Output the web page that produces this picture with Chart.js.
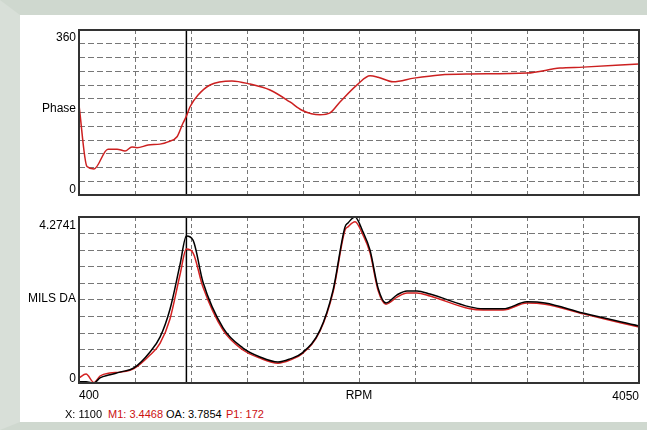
<!DOCTYPE html>
<html>
<head>
<meta charset="utf-8">
<script src="https://cdn.jsdelivr.net/npm/chart.js@4.4.0/dist/chart.umd.min.js"></script>
<style>
  html, body { margin: 0; padding: 0; }
  body { width: 647px; height: 430px; position: relative; overflow: hidden; background: #fff;
         font-family: "Liberation Sans", Arial, sans-serif; }
  #frame { position: absolute; left: 0; top: 0; width: 627px; height: 407px; background: #fff;
           border-left: 20px solid #d8dfd8; border-top: 15px solid #cfd8cf; border-bottom: 8px solid #cfd8cf; }
  canvas { position: absolute; left: 0; }
  .lbl { position: absolute; font-size: 12px; line-height: 14px; color: #000; white-space: nowrap; }
  .yl { left: 0; width: 76px; text-align: right; }
  .st { position: absolute; top: 408px; font-size: 11px; line-height: 13px; color: #000; white-space: nowrap; }
  .red { color: #cc1111; }
</style>
</head>
<body>
<div id="frame"></div>
<canvas id="phase" width="647" height="200" style="top:0"></canvas>
<canvas id="amp" width="647" height="185" style="top:205px"></canvas>

<div class="lbl yl" style="top:30px">360</div>
<div class="lbl yl" style="top:101px">Phase</div>
<div class="lbl yl" style="top:182px">0</div>
<div class="lbl yl" style="top:218px">4.2741</div>
<div class="lbl yl" style="top:291px">MILS DA</div>
<div class="lbl yl" style="top:371px">0</div>
<div class="lbl" style="top:388px;left:79px">400</div>
<div class="lbl" style="top:388px;left:309px;width:100px;text-align:center">RPM</div>
<div class="lbl" style="top:389px;left:539px;width:100px;text-align:right">4050</div>
<div class="st" style="left:65px">X: 1100</div>
<div class="st red" style="left:108px">M1: 3.4468</div>
<div class="st" style="left:166px">OA: 3.7854</div>
<div class="st red" style="left:226px">P1: 172</div>

<script>
// phase vs rpm
const phaseRpm = [400, 452, 498, 589, 648, 700, 745, 778, 850, 928, 980, 1039, 1078, 1100, 1123, 1176, 1254, 1397, 1515, 1645,
  1775, 1853, 1971, 2036, 2101, 2218, 2297, 2349, 2447, 2584, 2753, 2948, 3320, 3535, 3685, 4050];
const phaseDeg = [196, 62, 57, 100, 100, 96, 105, 103, 109, 111, 116, 127, 157, 172, 192, 218, 240, 249, 242, 229,
  203, 185, 175, 179, 203, 242, 260, 257, 247, 255, 262, 264, 266, 277, 279, 286];

// amplitude vs rpm (overall = black, 1X = red)
const ampRpm = [400, 446, 498, 537, 602, 667, 758, 863, 928, 993, 1058, 1100, 1143, 1208, 1339, 1469, 1580, 1697, 1775, 1853,
  1971, 2056, 2134, 2153, 2199, 2251, 2297, 2349, 2401, 2473, 2538, 2603, 2688, 2948, 3033, 3164, 3320, 3437, 3685, 4050];
const ampOverall = [0.03, 0.03, 0.0, 0.13, 0.21, 0.28, 0.39, 0.80, 1.18, 1.90, 3.04, 3.785, 3.68, 2.60, 1.42, 0.90, 0.67, 0.54, 0.62, 0.77,
  1.36, 2.39, 4.02, 4.12, 4.274, 3.89, 3.42, 2.45, 2.06, 2.27, 2.37, 2.37, 2.29, 1.96, 1.91, 1.91, 2.09, 2.06, 1.80, 1.47];
const amp1x = [0.13, 0.23, 0.01, 0.18, 0.26, 0.28, 0.37, 0.72, 1.02, 1.65, 2.78, 3.447, 3.35, 2.47, 1.36, 0.85, 0.64, 0.51, 0.59, 0.75,
  1.34, 2.34, 3.94, 4.02, 4.15, 3.81, 3.35, 2.39, 2.03, 2.21, 2.32, 2.32, 2.24, 1.91, 1.88, 1.88, 2.06, 2.03, 1.78, 1.44];

const rpmTicks = [400, 765, 1130, 1495, 1860, 2225, 2590, 2955, 3320, 3685, 4050];
const phaseTicks = [0, 30, 60, 90, 120, 150, 180, 210, 240, 270, 300, 330, 360];
const ampTicks = [0, 0.4274, 0.8548, 1.2822, 1.7096, 2.1371, 2.5645, 2.9919, 3.4193, 3.8467, 4.2741];
const cursorRpm = 1100;

const pts = (xs, ys) => xs.map((x, i) => ({ x: x, y: ys[i] }));

const frameAndCursor = {
  id: 'frameAndCursor',
  beforeDatasetsDraw(chart) {
    const { ctx, chartArea: a, scales } = chart;
    const cx = scales.x.getPixelForValue(cursorRpm);
    ctx.save();
    ctx.strokeStyle = '#000';
    ctx.lineWidth = 1.5;
    ctx.beginPath();
    ctx.moveTo(cx, a.top);
    ctx.lineTo(cx, a.bottom);
    ctx.stroke();
    ctx.restore();
  },
  afterDraw(chart) {
    const { ctx, chartArea: a } = chart;
    ctx.save();
    ctx.strokeStyle = '#333';
    ctx.lineWidth = 2;
    ctx.strokeRect(a.left, a.top, a.right - a.left, a.bottom - a.top);
    ctx.restore();
  }
};

const makeOptions = (yMin, yMax, yTicks, padTop, padBottom) => ({
  responsive: false,
  animation: false,
  layout: { padding: { left: 79, right: 8, top: padTop, bottom: padBottom } },
  plugins: { legend: { display: false }, tooltip: { enabled: false } },
  elements: { point: { radius: 0 }, line: { borderWidth: 1.5, cubicInterpolationMode: 'monotone' } },
  scales: {
    x: {
      type: 'linear', min: 400, max: 4050,
      afterBuildTicks: s => { s.ticks = rpmTicks.map(v => ({ value: v })); },
      afterFit: s => { s.height = 0; },
      ticks: { display: false },
      grid: { color: '#777', lineWidth: 1, drawTicks: false },
      border: { display: false, dash: [4, 3] }
    },
    y: {
      min: yMin, max: yMax,
      afterBuildTicks: s => { s.ticks = yTicks.map(v => ({ value: v })); },
      afterFit: s => { s.width = 0; },
      ticks: { display: false },
      grid: { color: '#777', lineWidth: 1, drawTicks: false },
      border: { display: false, dash: [6, 3] }
    }
  }
});

new Chart(document.getElementById('phase'), {
  type: 'line',
  data: {
    datasets: [{ data: pts(phaseRpm, phaseDeg), borderColor: '#cc2020' }]
  },
  options: makeOptions(0, 360, phaseTicks, 30, 5),
  plugins: [frameAndCursor]
});

new Chart(document.getElementById('amp'), {
  type: 'line',
  data: {
    datasets: [
      { data: pts(ampRpm, ampOverall), borderColor: '#000' },
      { data: pts(ampRpm, amp1x), borderColor: '#d42020' }
    ]
  },
  options: makeOptions(0, 4.2741, ampTicks, 12, 7),
  plugins: [frameAndCursor]
});
</script>
</body>
</html>
